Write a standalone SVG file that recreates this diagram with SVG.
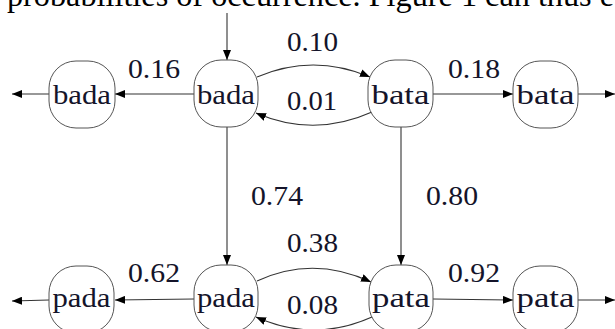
<svg xmlns="http://www.w3.org/2000/svg" width="615" height="329" viewBox="0 0 615 329">
<style>
.node rect{fill:#fff;stroke:#555;stroke-width:1}
.node text{font-family:'Liberation Serif',serif;font-size:28px;fill:#14142a;text-anchor:middle}
.lbl{font-family:'Liberation Serif',serif;font-size:28px;fill:#14142a}
.edge{fill:none;stroke:#333;stroke-width:1.1}
.page{font-family:'Liberation Serif',serif;font-size:32px;fill:#000}
</style>
<defs>
<marker id="ah" viewBox="0 0 10 8" refX="10" refY="4" markerWidth="10" markerHeight="8" markerUnits="userSpaceOnUse" orient="auto">
<path d="M0,0 L10,4 L0,8 z" fill="#000"/>
</marker>
</defs>
<rect width="615" height="329" fill="#fff"/>
<text class="page" x="7" y="6" textLength="607" lengthAdjust="spacingAndGlyphs">probabilities of occurrence. Figure 1 can thus e</text>
<g id="connectors">
<path class="edge" d="M227,13 L227,60" marker-end="url(#ah)"/>
<path class="edge" d="M194,94 L115,94" marker-end="url(#ah)"/>
<path class="edge" d="M49,94 L12,94" marker-end="url(#ah)"/>
<path class="edge" d="M257,77 Q313,53 370,77" marker-end="url(#ah)"/>
<path class="edge" d="M372,112 Q314,138 256,113" marker-end="url(#ah)"/>
<path class="edge" d="M433,94 L513,94" marker-end="url(#ah)"/>
<path class="edge" d="M578,94 L615,94" marker-end="url(#ah)"/>
<path class="edge" d="M227,127 L227,265" marker-end="url(#ah)"/>
<path class="edge" d="M401,127 L401,265" marker-end="url(#ah)"/>
<path class="edge" d="M194,299 L115,300" marker-end="url(#ah)"/>
<path class="edge" d="M49,300 L12,301" marker-end="url(#ah)"/>
<path class="edge" d="M257,281 Q313,255 371,282" marker-end="url(#ah)"/>
<path class="edge" d="M372,317 Q314,343 256,317" marker-end="url(#ah)"/>
<path class="edge" d="M433,299 L513,300" marker-end="url(#ah)"/>
<path class="edge" d="M578,300 L615,300" marker-end="url(#ah)"/>
<text class="lbl" x="287" y="51" textLength="51" lengthAdjust="spacingAndGlyphs">0.10</text>
<text class="lbl" x="128" y="78" textLength="52" lengthAdjust="spacingAndGlyphs">0.16</text>
<text class="lbl" x="287" y="110" textLength="50" lengthAdjust="spacingAndGlyphs">0.01</text>
<text class="lbl" x="448" y="78" textLength="52" lengthAdjust="spacingAndGlyphs">0.18</text>
<text class="lbl" x="251" y="205" textLength="52" lengthAdjust="spacingAndGlyphs">0.74</text>
<text class="lbl" x="426" y="205" textLength="52" lengthAdjust="spacingAndGlyphs">0.80</text>
<text class="lbl" x="287" y="252" textLength="51" lengthAdjust="spacingAndGlyphs">0.38</text>
<text class="lbl" x="128" y="282" textLength="52" lengthAdjust="spacingAndGlyphs">0.62</text>
<text class="lbl" x="448" y="282" textLength="52" lengthAdjust="spacingAndGlyphs">0.92</text>
<text class="lbl" x="287" y="314" textLength="51" lengthAdjust="spacingAndGlyphs">0.08</text>
</g>
<g id="n_bada_out" class="node"><rect x="49" y="61" width="66" height="67" rx="27"/><text x="82" y="104" textLength="58" lengthAdjust="spacingAndGlyphs">bada</text></g>
<g id="n_bada" class="node"><rect x="194" y="60" width="64" height="67" rx="27"/><text x="226" y="104" textLength="58" lengthAdjust="spacingAndGlyphs">bada</text></g>
<g id="n_bata" class="node"><rect x="368" y="60" width="65" height="67" rx="27"/><text x="400.5" y="104" textLength="58" lengthAdjust="spacingAndGlyphs">bata</text></g>
<g id="n_bata_out" class="node"><rect x="513" y="61" width="65" height="67" rx="27"/><text x="545.5" y="104" textLength="58" lengthAdjust="spacingAndGlyphs">bata</text></g>
<g id="n_pada_out" class="node"><rect x="49" y="266" width="65" height="67" rx="27"/><text x="81.5" y="307" textLength="58" lengthAdjust="spacingAndGlyphs">pada</text></g>
<g id="n_pada" class="node"><rect x="194" y="265" width="64" height="67" rx="27"/><text x="226" y="307" textLength="58" lengthAdjust="spacingAndGlyphs">pada</text></g>
<g id="n_pata" class="node"><rect x="369" y="265" width="64" height="67" rx="27"/><text x="401" y="307" textLength="58" lengthAdjust="spacingAndGlyphs">pata</text></g>
<g id="n_pata_out" class="node"><rect x="513" y="266" width="65" height="67" rx="27"/><text x="545.5" y="307" textLength="58" lengthAdjust="spacingAndGlyphs">pata</text></g>
</svg>
